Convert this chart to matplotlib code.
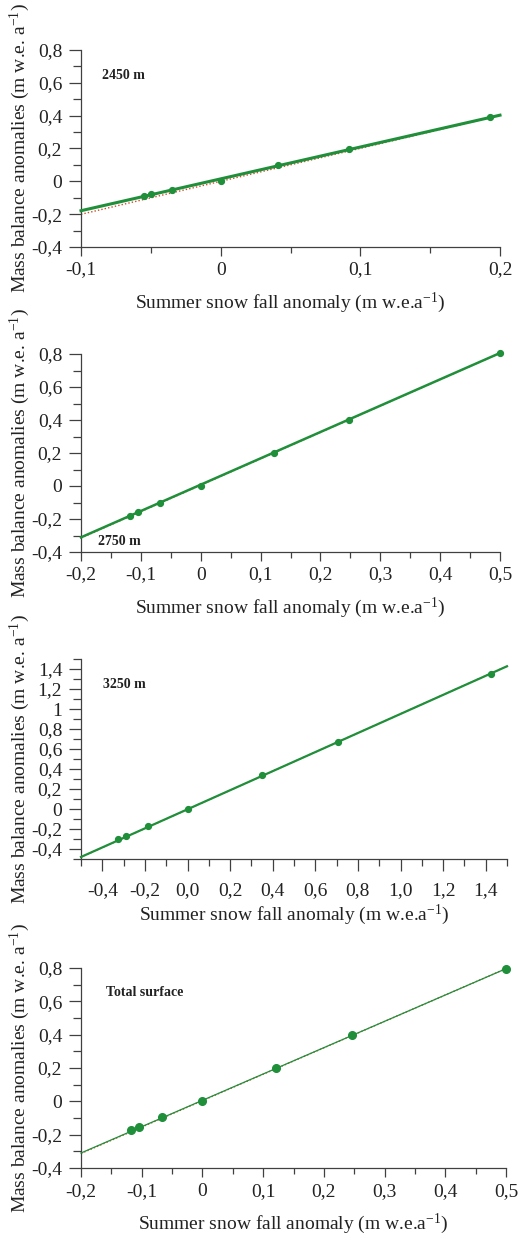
import matplotlib
matplotlib.use("Agg")
import matplotlib.pyplot as plt
import numpy as np
from matplotlib.ticker import FixedLocator, MultipleLocator

plt.rcParams['font.family'] = ['Liberation Serif', 'DejaVu Serif']
plt.rcParams['mathtext.fontset'] = 'custom'
plt.rcParams['mathtext.rm'] = 'Liberation Serif'
plt.rcParams['mathtext.it'] = 'Liberation Serif:italic'

# ---------------- data ----------------
labels = ["2450 m", "2750 m", "3250 m", "Total surface"]

x_2450 = [-0.055, -0.050, -0.035, 0.000, 0.041, 0.092, 0.193]
y_2450 = [-0.092, -0.077, -0.051, 0.000, 0.097, 0.196, 0.391]

x_2750 = [-0.118, -0.105, -0.068, 0.000, 0.122, 0.248, 0.500]
y_2750 = [-0.180, -0.160, -0.103, 0.000, 0.200, 0.402, 0.806]

x_3250 = [-0.327, -0.291, -0.186, 0.000, 0.351, 0.708, 1.423]
y_3250 = [-0.300, -0.267, -0.167, 0.000, 0.337, 0.673, 1.350]

x_total = [-0.117, -0.104, -0.066, 0.000, 0.121, 0.247, 0.500]
y_total = [-0.172, -0.154, -0.096, 0.004, 0.202, 0.400, 0.796]

# regression line (green) slope / intercept and dotted reference line (red)
fit_slope = [1.94, 1.596, 0.9535, 1.58]
fit_icpt = [0.015, 0.008, -0.003, 0.006]
ref_slope = [2.01, 1.60, 0.955, 1.585]
ref_icpt = [0.0, 0.005, -0.004, 0.004]

xlims = [(-0.1, 0.2), (-0.2, 0.5), (-0.5, 1.5), (-0.2, 0.5)]
ylims = [(-0.4, 0.8), (-0.4, 0.8), (-0.5, 1.5), (-0.4, 0.8)]

xt_2450 = [-0.1, 0.0, 0.1, 0.2]
xl_2450 = ["-0,1", "0", "0,1", "0,2"]
xt_2750 = [-0.2, -0.1, 0.0, 0.1, 0.2, 0.3, 0.4, 0.5]
xl_2750 = ["-0,2", "-0,1", "0", "0,1", "0,2", "0,3", "0,4", "0,5"]
xt_3250 = [-0.4, -0.2, 0.0, 0.2, 0.4, 0.6, 0.8, 1.0, 1.2, 1.4]
xl_3250 = ["-0,4", "-0,2", "0,0", "0,2", "0,4", "0,6", "0,8", "1,0", "1,2", "1,4"]
yt_std = [-0.4, -0.2, 0.0, 0.2, 0.4, 0.6, 0.8]
yl_std = ["-0,4", "-0,2", "0", "0,2", "0,4", "0,6", "0,8"]
yt_3250 = [-0.4, -0.2, 0.0, 0.2, 0.4, 0.6, 0.8, 1.0, 1.2, 1.4]
yl_3250 = ["-0,4", "-0,2", "0", "0,2", "0,4", "0,6", "0,8", "1", "1,2", "1,4"]

xs = [x_2450, x_2750, x_3250, x_total]
ys = [y_2450, y_2750, y_3250, y_total]
xticks = [xt_2450, xt_2750, xt_3250, xt_2750]
xticklabels = [xl_2450, xl_2750, xl_3250, xl_2750]
yticks = [yt_std, yt_std, yt_3250, yt_std]
yticklabels = [yl_std, yl_std, yl_3250, yl_std]
xminor = [0.05, 0.05, 0.1, 0.05]
yminor = [0.1, 0.1, 0.1, 0.1]

# ---------------- layout ----------------
W, H = 518, 1236
boxes = [(81, 500, 50, 247), (81, 500, 354, 552), (81, 507, 659, 859), (81, 506, 968, 1168)]
label_pos = [(0.05, 0.873), (0.04, 0.052), (0.052, 0.875), (0.059, 0.877)]
fit_lw = [2.2, 1.8, 1.6, 0.9]
marker_size = [4.2, 4.2, 4.2, 5.5]
xpad = [4.0, 4.0, 8.0, 4.5]
xmaj_len = [6.5, 6.5, 8.5, 6.5]
xmin_len = [4.3, 4.3, 5.0, 4.3]

green = "#1f8f3a"
red = "#d04a2a"
axcol = "#404040"

fig = plt.figure(figsize=(W / 100, H / 100), dpi=100)

for i in range(4):
    l, r, t, b = boxes[i]
    ax = fig.add_axes([l / W, 1 - b / H, (r - l) / W, (b - t) / H])
    ax.set_xlim(*xlims[i])
    ax.set_ylim(*ylims[i])
    xx = np.array(xlims[i])
    ax.plot(xx, ref_slope[i] * xx + ref_icpt[i], color=red, lw=1.0,
            ls=(0, (1, 1.5)), zorder=2, clip_on=False)
    ax.plot(xx, fit_slope[i] * xx + fit_icpt[i], color=green, lw=fit_lw[i],
            zorder=3, clip_on=False)
    ax.plot(xs[i], ys[i], 'o', color=green, ms=marker_size[i], zorder=4,
            clip_on=False, mec=green)

    for s in ["top", "right"]:
        ax.spines[s].set_visible(False)
    for s in ["left", "bottom"]:
        ax.spines[s].set_color(axcol)
        ax.spines[s].set_linewidth(0.9)

    ax.xaxis.set_major_locator(FixedLocator(xticks[i]))
    ax.set_xticklabels(xticklabels[i])
    ax.yaxis.set_major_locator(FixedLocator(yticks[i]))
    ax.set_yticklabels(yticklabels[i])
    ax.xaxis.set_minor_locator(MultipleLocator(xminor[i]))
    ax.yaxis.set_minor_locator(MultipleLocator(yminor[i]))
    ax.tick_params(which='both', direction='out', width=0.9, color=axcol,
                   labelsize=14, labelcolor='#222222')
    ax.tick_params(axis='y', which='major', length=8.5, pad=5)
    ax.tick_params(axis='y', which='minor', length=5.5)
    ax.tick_params(axis='x', which='major', length=xmaj_len[i], pad=xpad[i])
    ax.tick_params(axis='x', which='minor', length=xmin_len[i])

    ax.set_xlabel("Summer snow fall anomaly (m w.e.a$^{-1}$)", fontsize=14,
                  color='#222222', va='center')
    ax.xaxis.set_label_coords(0.5, -56 / (b - t))
    ax.set_ylabel("Mass balance anomalies (m w.e. a$^{-1}$)", fontsize=14,
                  color='#222222', va='center')
    ax.yaxis.set_label_coords(-(l - 20) / (r - l), 0.5)

    ax.text(label_pos[i][0], label_pos[i][1], labels[i], transform=ax.transAxes,
            fontsize=10, fontweight='bold', color='#222222', va='center')

fig.savefig("out.png", dpi=100)
